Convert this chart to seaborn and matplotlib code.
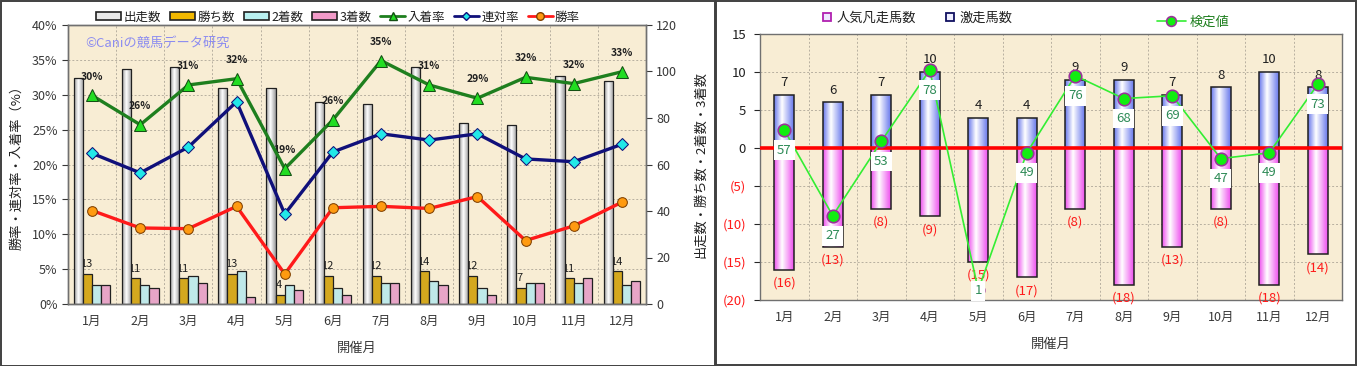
import numpy as np
import pandas as pd
import seaborn as sns
import matplotlib.pyplot as plt
from matplotlib.patches import Rectangle
from matplotlib.lines import Line2D
from matplotlib.colors import LinearSegmentedColormap

months = ['1月', '2月', '3月', '4月', '5月', '6月', '7月', '8月', '9月', '10月', '11月', '12月']

# left chart: counts (right axis) and rates (left axis, %)
starts = [97, 101, 102, 93, 93, 87, 86, 102, 78, 77, 98, 96]
wins = [13, 11, 11, 13, 4, 12, 12, 14, 12, 7, 11, 14]
seconds = [8, 8, 12, 14, 8, 7, 9, 10, 7, 9, 9, 8]
thirds = [8, 7, 9, 3, 6, 4, 9, 8, 4, 9, 11, 10]
place_rate = [29.9, 25.7, 31.4, 32.3, 19.4, 26.4, 34.9, 31.4, 29.5, 32.5, 31.6, 33.3]
ren_rate = [21.6, 18.8, 22.5, 29.0, 12.9, 21.8, 24.4, 23.5, 24.4, 20.8, 20.4, 22.9]
win_rate = [13.4, 10.9, 10.8, 14.0, 4.3, 13.8, 14.0, 13.7, 15.4, 9.1, 11.2, 14.6]
place_labels = ['30%', '26%', '31%', '32%', '19%', '26%', '35%', '31%', '29%', '32%', '32%', '33%']

# right chart
surge = [7, 6, 7, 10, 4, 4, 9, 9, 7, 8, 10, 8]
flop = [-16, -13, -8, -9, -15, -17, -8, -18, -13, -8, -18, -14]
test_val = [57, 27, 53, 78, 1, 49, 76, 68, 69, 47, 49, 73]

BG = '#F8EDD4'
GRID = '#B8B0A0'
TXT = '#383838'

sns.set_style('white')
plt.rcParams['font.family'] = ['Noto Sans CJK JP', 'DejaVu Sans']
plt.rcParams['font.size'] = 9

W, H = 1357, 366
fig = plt.figure(figsize=(W / 100, H / 100), dpi=100)


def gradient_fill(ax, patch, edge_col, mid=0.4):
    x0, y0 = patch.get_x(), patch.get_y()
    w, h = patch.get_width(), patch.get_height()
    cmap = LinearSegmentedColormap.from_list(
        'g', [(0, edge_col), (mid, 'white'), (1, edge_col)])
    grad = np.linspace(0, 1, 64).reshape(1, -1)
    im = ax.imshow(grad, cmap=cmap, extent=[x0, x0 + w, min(y0, y0 + h), max(y0, y0 + h)],
                   aspect='auto', interpolation='bilinear', zorder=patch.get_zorder() - 0.01)
    im.set_clip_path(patch)
    patch.set_facecolor('none')


def style_spines(ax):
    for s in ax.spines.values():
        s.set_color('#707070')
        s.set_linewidth(1.0)


# ---------------- left chart ----------------
axb = fig.add_axes([68 / W, 1 - 304 / H, (646 - 68) / W, (304 - 25) / H])
axl = axb.twinx()
axb.set_facecolor(BG)
axl.set_facecolor('none')

df_left = pd.DataFrame({
    'month': months * 4,
    'series': ['出走数'] * 12 + ['勝ち数'] * 12 + ['2着数'] * 12 + ['3着数'] * 12,
    'value': starts + wins + seconds + thirds,
})
bar_cols = ['#E0E0E0', '#F2B800', '#B8F0F0', '#F29AC8']
sns.barplot(data=df_left, x='month', y='value', hue='series', palette=bar_cols,
            width=0.76, edgecolor='#202020', linewidth=0.9, errorbar=None,
            legend=False, ax=axb, zorder=2)
for p in axb.patches[:12]:
    gradient_fill(axb, p, '#9A9A9A', mid=0.45)

for p, w in zip(axb.patches[12:24], wins):
    axb.text(p.get_x() + 1.5 * p.get_width() / 4, p.get_height() + 2.0, str(w),
             ha='center', va='bottom', fontsize=8, color='#202020', zorder=1.5)

axb.set_xlim(-0.5, 11.5)
axb.set_ylim(0, 120)
axb.set_yticks(range(0, 121, 20))
axb.set_xlabel('開催月', fontsize=9.5, color=TXT, labelpad=10)
axb.tick_params(axis='x', colors=TXT, labelsize=9, length=0, pad=8)
for k in range(1, 8):
    axb.axhline(k * 15, color=GRID, lw=0.7, ls=(0, (2, 2)), zorder=0.5)
for k in range(11):
    axb.axvline(k + 0.5, color=GRID, lw=0.7, ls=(0, (2, 2)), zorder=0.5)
style_spines(axb)

xpos = np.arange(12)
sns.lineplot(x=xpos, y=place_rate, ax=axl, color='#1E7F1E', lw=2.4, marker='^',
             markersize=9, markerfacecolor='#22DD22', markeredgecolor='#145014', zorder=4)
sns.lineplot(x=xpos, y=ren_rate, ax=axl, color='#10107A', lw=2.4, marker='D',
             markersize=6, markerfacecolor='#22E8E8', markeredgecolor='#10107A', zorder=4)
sns.lineplot(x=xpos, y=win_rate, ax=axl, color='#FF1A1A', lw=2.4, marker='o',
             markersize=7, markerfacecolor='#FF9A10', markeredgecolor='#804000', zorder=4)
for x, y, s in zip(xpos, place_rate, place_labels):
    axl.annotate(s, (x, y), xytext=(0, 10), textcoords='offset points', ha='center',
                 va='bottom', fontsize=7.5, fontweight='bold', color='#202020')
axl.set_ylim(0, 40)
axl.set_yticks(range(0, 41, 5))
axl.set_yticklabels([f'{v}%' for v in range(0, 41, 5)])
axl.text(0.03, 0.935, '©Caniの競馬データ研究', transform=axl.transAxes, fontsize=9.5,
         color='#8C8CF0', va='center', ha='left')
style_spines(axl)

# percent axis on the left, count axis on the right
axl.yaxis.tick_left()
axl.yaxis.set_label_position('left')
axl.set_ylabel('勝率・連対率・入着率（%）', fontsize=9.5, color='#202020', labelpad=6)
axl.tick_params(axis='y', colors=TXT, labelsize=9, length=4, direction='out',
                left=True, right=False, labelleft=True, labelright=False)
axb.yaxis.tick_right()
axb.yaxis.set_label_position('right')
axb.set_ylabel('出走数・勝ち数・2着数・3着数', fontsize=9.5, color='#202020', labelpad=12)
axb.tick_params(axis='y', colors=TXT, labelsize=9, length=4, direction='out',
                right=True, left=False, labelright=True, labelleft=False)

left_handles = [
    Rectangle((0, 0), 1, 1, fc='#E8E8E8', ec='#202020', lw=1.2),
    Rectangle((0, 0), 1, 1, fc='#F2B800', ec='#202020', lw=1.2),
    Rectangle((0, 0), 1, 1, fc='#B8F0F0', ec='#202020', lw=1.2),
    Rectangle((0, 0), 1, 1, fc='#F29AC8', ec='#202020', lw=1.2),
    Line2D([], [], color='#1E7F1E', lw=2, marker='^', ms=6, mfc='#22DD22', mec='#145014'),
    Line2D([], [], color='#10107A', lw=2, marker='D', ms=4.5, mfc='#22E8E8', mec='#10107A'),
    Line2D([], [], color='#FF1A1A', lw=2, marker='o', ms=5.5, mfc='#FF9A10', mec='#804000'),
]
fig.legend(left_handles, ['出走数', '勝ち数', '2着数', '3着数', '入着率', '連対率', '勝率'],
           ncol=7, loc='center', bbox_to_anchor=(338 / W, 1 - 17 / H), frameon=False,
           fontsize=9, handlelength=2.0, handleheight=0.55, columnspacing=0.7,
           handletextpad=0.2, labelcolor='#202020')

# ---------------- right chart ----------------
axr = fig.add_axes([760 / W, 1 - 300 / H, (1342 - 760) / W, (300 - 34) / H])
axr.set_facecolor(BG)
df_right = pd.DataFrame({
    'month': months * 2,
    'series': ['激走馬数'] * 12 + ['人気凡走馬数'] * 12,
    'value': surge + flop,
})
sns.barplot(data=df_right, x='month', y='value', hue='series', dodge=False,
            palette=['#7080F0', '#F060F0'], width=0.41, edgecolor='#202020',
            linewidth=1.1, errorbar=None, legend=False, ax=axr, zorder=2)
for p in axr.patches[:12]:
    gradient_fill(axr, p, '#6878EC', mid=0.4)
for p in axr.patches[12:24]:
    gradient_fill(axr, p, '#EE50EE', mid=0.4)

for x, v in enumerate(surge):
    axr.annotate(str(v), (x, v), xytext=(0, 4), textcoords='offset points',
                 ha='center', va='bottom', fontsize=9.5, color='#202020')
for x, v in enumerate(flop):
    axr.annotate(f'({-v})', (x, v), xytext=(0, -5), textcoords='offset points',
                 ha='center', va='top', fontsize=9.5, color='#FF1A1A', zorder=6)

axr.axhline(0, color='#FF0000', lw=2.6, zorder=3)
axr.set_xlim(-0.5, 11.5)
axr.set_ylim(-20, 15)
yt = list(range(-20, 16, 5))
axr.set_yticks(yt)
axr.set_yticklabels([f'({-v})' if v < 0 else str(v) for v in yt])
for lab, v in zip(axr.get_yticklabels(), yt):
    lab.set_color('#FF1A1A' if v < 0 else '#202020')
axr.tick_params(axis='y', labelsize=9.5, length=4, direction='out', left=True, pad=6)
axr.tick_params(axis='x', colors=TXT, labelsize=9, length=0, pad=8)
axr.set_xlabel('開催月', fontsize=9.5, color=TXT, labelpad=10)
axr.set_ylabel('')
for k in range(-15, 15, 5):
    if k != 0:
        axr.axhline(k, color=GRID, lw=0.7, ls=(0, (2, 2)), zorder=0.5)
for k in range(11):
    axr.axvline(k + 0.5, color=GRID, lw=0.7, ls=(0, (2, 2)), zorder=0.5)
style_spines(axr)

axt = axr.twinx()
axt.set_facecolor('none')
lo, hi = -2.5, 90.6
sns.lineplot(x=xpos, y=test_val, ax=axt, color='#33EE33', lw=1.2, marker='o',
             markersize=9, markerfacecolor='#11EE11', markeredgecolor='#993399',
             markeredgewidth=1.2, zorder=4)
axt.set_ylim(lo, hi)
axt.set_yticks([])
axt.set_ylabel('')
for s in axt.spines.values():
    s.set_visible(False)
ax_h = 300 - 34
for x, v in enumerate(test_val):
    f = (v - lo) / (hi - lo)
    fy = max(f - 20 / ax_h, 9 / ax_h)
    axt.text(x, fy, str(v), transform=axt.get_xaxis_transform(), ha='center',
             va='center', fontsize=9.5, color='#2E8B57', zorder=5,
             bbox=dict(boxstyle='square,pad=0.25', fc='white', ec='none'))

right_handles = [
    Line2D([], [], ls='none', marker='s', ms=5.5, mfc='#EEE8FF', mec='#B020B0', mew=1.3),
    Line2D([], [], ls='none', marker='s', ms=5.5, mfc='#EEEEFF', mec='#101060', mew=1.3),
]
fig.legend(right_handles, ['人気凡走馬数', '激走馬数'], ncol=2, loc='center',
           bbox_to_anchor=(917 / W, 1 - 18 / H), frameon=False, fontsize=9.5,
           handlelength=0.8, handletextpad=0.3, columnspacing=2.2, labelcolor='#202020')
fig.legend([Line2D([], [], color='#33EE33', lw=1.2, marker='o', ms=7, mfc='#11EE11',
                   mec='#993399', mew=1.2)], ['検定値'], loc='center',
           bbox_to_anchor=(1193 / W, 1 - 22 / H), frameon=False, fontsize=9.5,
           handlelength=2.2, handletextpad=0.3, labelcolor='#1E7F1E')

# panel frames
fig.patches.append(Rectangle((0.5 / W, 0.5 / H), 714 / W, (H - 1.5) / H, transform=fig.transFigure,
                             fill=False, ec='#404040', lw=1.4))
fig.patches.append(Rectangle((716 / W, 1.5 / H), (W - 717) / W, (H - 2.5) / H,
                             transform=fig.transFigure, fill=False, ec='#404040', lw=1.4))

fig.savefig('out.png', dpi=100)
